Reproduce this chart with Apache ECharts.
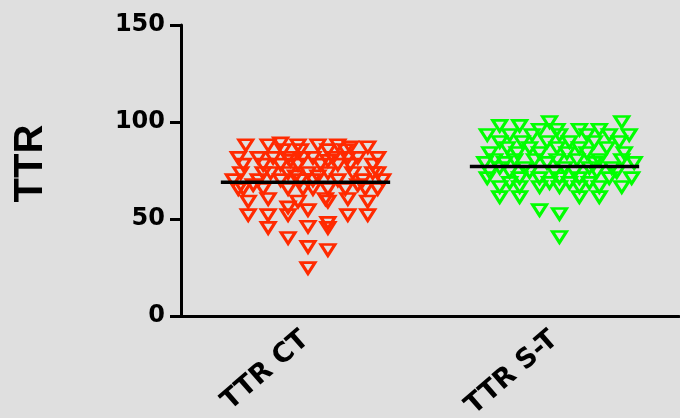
<!DOCTYPE html>
<html>
<head>
<meta charset="utf-8">
<script src="https://cdn.jsdelivr.net/npm/echarts@6/dist/echarts.min.js"></script>
<style>html,body{margin:0;padding:0;background:#dfdfdf;}#c{width:680px;height:418px;}</style>
</head>
<body>
<div id="c"></div>
<script>
// Categories and tick settings
const categories = ['TTR CT', 'TTR S-T'];
const yMin = 0, yMax = 150, yInterval = 50;
// Group means (horizontal black lines)
const means = [69, 77];
// Points: [horizontal jitter offset within the category (fraction of band), TTR value]
const ctPoints = [
  [-0.24,88],[-0.15,88],[-0.10,89],[-0.03,88],[0.05,88],[0.13,88],[0.18,87],[0.25,87],
  [-0.09,85.5],[-0.02,85.5],[0.09,85.5],[0.16,85.5],
  [-0.27,81.5],[-0.19,81.5],[-0.13,81.5],[-0.07,81.5],[-0.01,81.5],[0.03,81.5],[0.11,81.5],[0.17,81.5],[0.21,81.5],[0.29,81.5],
  [-0.06,80],[0.09,80],
  [-0.25,78],[-0.17,78],[-0.10,78],[-0.03,78],[0.06,78],[0.13,78],[0.18,78],[0.27,78],
  [-0.26,73.7],[-0.17,73.7],[-0.14,73.7],[-0.07,73.7],[0.01,73.7],[0.09,73.7],[0.19,73.7],[0.27,73.7],[0.29,73.7],
  [-0.04,72],[0.05,72],
  [-0.29,70],[-0.19,70],[-0.10,70],[-0.02,70],[0.03,70],[0.13,70],[0.23,70],[0.31,70],
  [-0.21,67.5],[0.21,67.5],
  [-0.27,65.5],[-0.25,65.5],[-0.17,65.5],[-0.07,65.5],[-0.01,65.5],[0.03,65.5],[0.09,65.5],[0.16,65.5],[0.24,65.5],[0.29,65.5],
  [-0.15,60.3],[0.08,60.3],[0.17,60.3],
  [-0.23,59],[-0.03,59],[0.09,59],[0.25,59],
  [-0.07,56],[0.01,54.6],
  [-0.23,52],[-0.15,52],[-0.07,52],[0.17,52],[0.25,52],
  [0.09,48],[0.01,46],[-0.15,45.4],[0.09,45.4],
  [-0.07,40.2],[0.01,35.6],[0.09,34],[0.01,24.7]
];
const stPoints = [
  [-0.02,100],[0.27,100],
  [-0.22,98],[-0.14,98],
  [-0.06,96],[0.01,96],[0.10,96],[0.18,96],
  [-0.27,93.3],[-0.18,93.3],[-0.09,93.3],[0.02,93.3],[0.13,93.3],[0.22,93.3],[0.30,93.3],
  [-0.22,89.7],[-0.13,89.7],[-0.03,89.7],[0.06,89.7],[0.16,89.7],[0.26,89.7],
  [-0.19,86.6],[-0.10,86.6],[0.01,86.6],[0.10,86.6],[0.21,86.6],
  [-0.26,84],[-0.15,84],[-0.06,84],[0.05,84],[0.13,84],[0.28,84],
  [-0.24,80.4],[-0.16,80.4],[-0.08,80.4],[0.01,80.4],[0.09,80.4],[0.18,80.4],[0.27,80.4],
  [-0.28,78.9],[-0.20,78.9],[-0.03,78.9],[0.16,78.9],[0.32,78.9],
  [-0.22,76.3],[-0.12,76.3],[0.04,76.3],[0.14,76.3],[0.23,76.3],
  [-0.26,74.2],[-0.18,74.2],[-0.10,74.2],[0.00,74.2],[0.08,74.2],[0.17,74.2],[0.25,74.2],
  [-0.27,71.1],[-0.14,71.1],[-0.06,71.1],[0.02,71.1],[0.10,71.1],[0.22,71.1],[0.31,71.1],
  [-0.18,68.6],[-0.02,68.6],[0.06,68.6],[0.14,68.6],
  [-0.22,66.5],[-0.14,66.5],[-0.06,66.5],[0.02,66.5],[0.10,66.5],[0.18,66.5],[0.27,66.5],
  [-0.22,61.3],[-0.14,61.3],[0.10,61.3],[0.18,61.3],
  [-0.06,54.6],[0.02,52.6],[0.02,40.7]
];
const meanHalfWidth = 0.34;

const colors = ['#ff2a00', '#00ff00'];
const groups = [ctPoints, stPoints];

const series = [];
groups.forEach((pts, i) => {
  series.push({
    type: 'scatter',
    xAxisIndex: 1,
    yAxisIndex: 0,
    symbol: 'triangle',
    symbolRotate: 180,
    symbolSize: [14, 11],
    itemStyle: { color: 'rgba(0,0,0,0)', borderColor: colors[i], borderWidth: 3, opacity: 1 },
    emphasis: { disabled: true },
    data: pts.map(p => [i + 0.5 + p[0], p[1]]),
    z: 2
  });
});
means.forEach((m, i) => {
  series.push({
    type: 'line',
    xAxisIndex: 1,
    yAxisIndex: 0,
    symbol: 'none',
    lineStyle: { color: '#000', width: 3.5 },
    data: [[i + 0.5 - meanHalfWidth, m], [i + 0.5 + meanHalfWidth, m]],
    z: 5,
    silent: true
  });
});

const chart = echarts.init(document.getElementById('c'), null, { renderer: 'canvas' });
chart.setOption({
  backgroundColor: '#dfdfdf',
  animation: false,
  grid: { left: 181, right: 1, top: 25, bottom: 102, containLabel: false, outerBoundsMode: 'none' },
  xAxis: [
    {
      type: 'category',
      data: categories,
      boundaryGap: true,
      axisLine: { lineStyle: { color: '#000', width: 3 } },
      axisTick: { alignWithLabel: true, length: 9, lineStyle: { color: '#000', width: 3 } },
      axisLabel: {
        rotate: 41, margin: 20, color: '#000',
        fontFamily: 'DejaVu Sans', fontWeight: 'bold', fontSize: 27
      },
      splitLine: { show: false }
    },
    { type: 'value', min: 0, max: 2, show: false }
  ],
  yAxis: [{
    type: 'value',
    min: yMin, max: yMax, interval: yInterval,
    name: 'TTR',
    nameLocation: 'middle',
    nameRotate: 90,
    nameGap: 130,
    nameTextStyle: { fontFamily: 'Liberation Sans', fontWeight: 'bold', fontSize: 40, color: '#000', padding: [0, 0, 0, 14] },
    axisLine: { show: true, lineStyle: { color: '#000', width: 3 } },
    axisTick: { show: true, length: 11, lineStyle: { color: '#000', width: 3 } },
    axisLabel: { margin: 16, color: '#000', fontFamily: 'DejaVu Sans', fontWeight: 'bold', fontSize: 24 },
    splitLine: { show: false }
  }],
  series: series
});
</script>
</body>
</html>
